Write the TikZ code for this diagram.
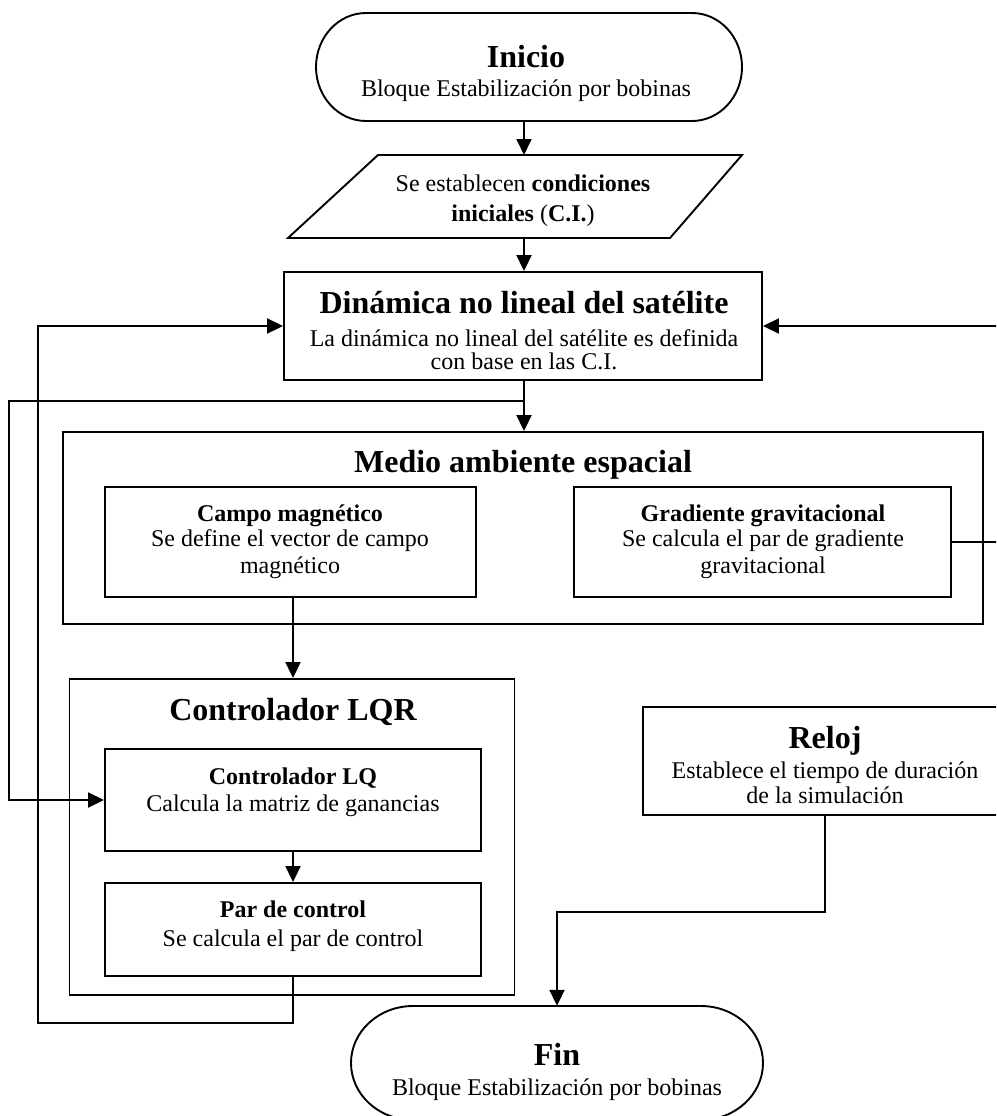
\documentclass[tikz,border=0pt]{standalone}
\usepackage{fontspec}
\setmainfont{Liberation Serif}
\usetikzlibrary{arrows.meta,calc}
\begin{document}
\begin{tikzpicture}[x=1pt,y=-1pt,
  ln/.style={line width=1.9pt},
  arr/.style={ln,-{Triangle[length=16pt,width=15pt]}},
  boxs/.style={draw,ln,rectangle,inner sep=0pt},
  ghost/.style={rectangle,inner sep=0pt},
  ttl/.style={font=\fontsize{32}{36}\selectfont\bfseries,anchor=mid,inner sep=0pt,yshift=-8.5pt},
  sub/.style={font=\fontsize{24}{27}\selectfont\bfseries,anchor=mid,inner sep=0pt,yshift=-6pt},
  txt/.style={font=\fontsize{24}{27}\selectfont,anchor=mid,inner sep=0pt,yshift=-6pt}]
\useasboundingbox (0,0) rectangle (996,1116);
\clip (0,0) rectangle (996,1116);

% ---- Inicio
\node[ghost,minimum width=426,minimum height=108] (ini) at (529,67) {};
\draw[ln] (366,13) -- (692,13) .. controls (719.6,13) and (742,37.2) .. (742,67)
  .. controls (742,96.8) and (719.6,121) .. (692,121) -- (366,121)
  .. controls (338.4,121) and (316,96.8) .. (316,67)
  .. controls (316,37.2) and (338.4,13) .. (366,13) -- cycle;
\node[ttl] (iniT) at (526,57) {Inicio};
\node[txt] (iniS) at (526,88) {Bloque Estabilización por bobinas};

% ---- Condiciones iniciales (parallelogram)
\coordinate (ciT) at (524,155);
\coordinate (ciB) at (524,238);
\draw[ln] (378,155) -- (742,155) -- (670,238) -- (288,238) -- cycle;
\node[txt] (ci1) at (523,183) {Se establecen \textbf{condiciones}};
\node[txt] (ci2) at (523,213) {\textbf{iniciales} (\textbf{C.I.})};

% ---- Dinamica
\node[boxs,minimum width=478,minimum height=108] (din) at (523,326) {};
\node[ttl] (dinT) at (524,303) {Dinámica no lineal del satélite};
\node[txt] (din1) at (524,338) {La dinámica no lineal del satélite es definida};
\node[txt] (din2) at (524,361) {con base en las C.I.};

% ---- Medio ambiente espacial
\node[boxs,minimum width=920,minimum height=192] (med) at (523,528) {};
\node[ttl] (medT) at (523,462) {Medio ambiente espacial};
\node[boxs,minimum width=371,minimum height=110] (campo) at (290.5,542) {};
\node[sub] (campoT) at (290,513) {Campo magnético};
\node[txt] (campo1) at (290,538) {Se define el vector de campo};
\node[txt] (campo2) at (290,565) {magnético};
\node[boxs,minimum width=377,minimum height=110] (grad) at (762.5,542) {};
\node[sub] (gradT) at (763,513) {Gradiente gravitacional};
\node[txt] (grad1) at (763,538) {Se calcula el par de gradiente};
\node[txt] (grad2) at (763,565) {gravitacional};

% ---- Controlador LQR
\node[boxs,minimum width=445,minimum height=316] (lqr) at (292,837) {};
\node[ttl] (lqrT) at (293,710) {Controlador LQR};
\node[boxs,minimum width=376,minimum height=102] (lq) at (293,800) {};
\node[sub] (lqT) at (293,776) {Controlador LQ};
\node[txt] (lq1) at (293,803) {Calcula la matriz de ganancias};
\node[boxs,minimum width=376,minimum height=93] (par) at (293,929.5) {};
\node[sub] (parT) at (293,909) {Par de control};
\node[txt] (par1) at (293,938) {Se calcula el par de control};

% ---- Reloj
\node[boxs,minimum width=364,minimum height=108] (rel) at (825,761) {};
\node[ttl] (relT) at (825,738) {Reloj};
\node[txt] (rel1) at (825,770) {Establece el tiempo de duración};
\node[txt] (rel2) at (825,795) {de la simulación};

% ---- Fin
\node[ghost,minimum width=412,minimum height=114] (fin) at (557,1063) {};
\draw[ln] (413,1006) -- (701,1006) .. controls (735.2,1006) and (763,1031.5) .. (763,1063)
  .. controls (763,1094.5) and (735.2,1120) .. (701,1120) -- (413,1120)
  .. controls (378.8,1120) and (351,1094.5) .. (351,1063)
  .. controls (351,1031.5) and (378.8,1006) .. (413,1006) -- cycle;
\node[ttl] (finT) at (557,1055) {Fin};
\node[txt] (finS) at (557,1087) {Bloque Estabilización por bobinas};

% ---- connectors
\coordinate (j1) at (524,401);
\coordinate (l1) at (9,401);
\coordinate (r1) at (1002,542);
\coordinate (b1) at (38,1023);
\coordinate (rf) at (557,912);

\draw[arr] (ini.south -| ciT) -- (ciT);
\draw[arr] (ciB) -- (din.north -| ciB);
\draw[arr] (din.south -| ciB) -- (med.north -| ciB);
\draw[arr] (j1) -- (l1) |- (lq.west);
\draw[arr] (grad.east) -- (r1) |- (din.east);
\draw[arr] (campo.south -| lq.north) -- (lqr.north -| lq.north);
\draw[arr] (lq.south) -- (par.north);
\draw[arr] (par.south) |- (b1) |- (din.west);
\draw[arr] (rel.south) |- (rf) -- (fin.north);
\end{tikzpicture}
\end{document}
